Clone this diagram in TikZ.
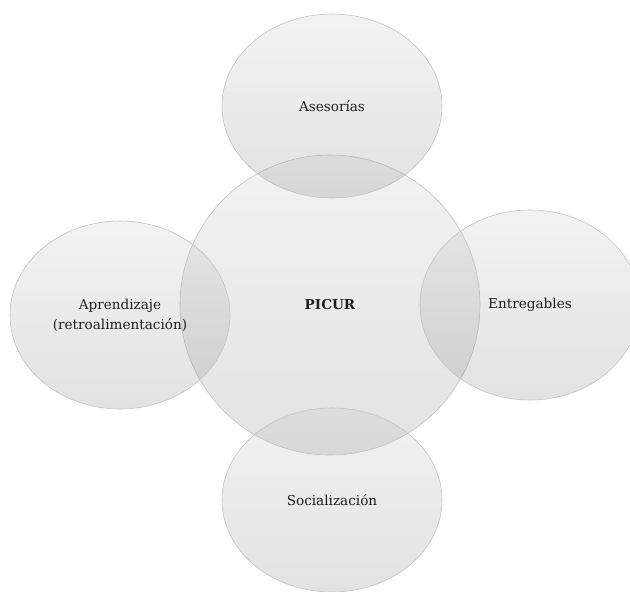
\documentclass[tikz,border=0pt]{standalone}
\usepackage{fontspec}
\setmainfont{DejaVu Serif}
\usepackage{xcolor}
\usetikzlibrary{shapes.geometric}
\definecolor{rimgray}{HTML}{C2C2C2}
\definecolor{inkgray}{HTML}{1E1E1E}

\begin{document}
\begin{tikzpicture}[
  x=1pt, y=-1pt,
  bubble/.style={draw=rimgray, line width=0.6pt, top color=black!22, bottom color=black!52, fill opacity=0.22, text opacity=1, text=inkgray, align=center, font=\fontsize{13.6}{20}\selectfont},
  hub/.style={bubble, circle, minimum size=300pt, font=\fontsize{13.6}{20}\selectfont\bfseries},
  petal/.style={bubble, ellipse, minimum width=220pt, minimum height=184pt},
]
  \clip (0,0) rectangle (630,592);

  % centre
  \node[hub] (picur) at (330,305) {PICUR};

  % satellites
  \node[petal] (asesorias) at (332,106) {Asesorías};
  \node[petal, minimum height=188pt] (aprendizaje) at (120,315) {Aprendizaje\\(retroalimentación)};
  \node[petal, minimum height=190pt] (entregables) at (530,305) {Entregables};
  \node[petal] (socializacion) at (332,500) {Socialización};

\end{tikzpicture}
\end{document}
